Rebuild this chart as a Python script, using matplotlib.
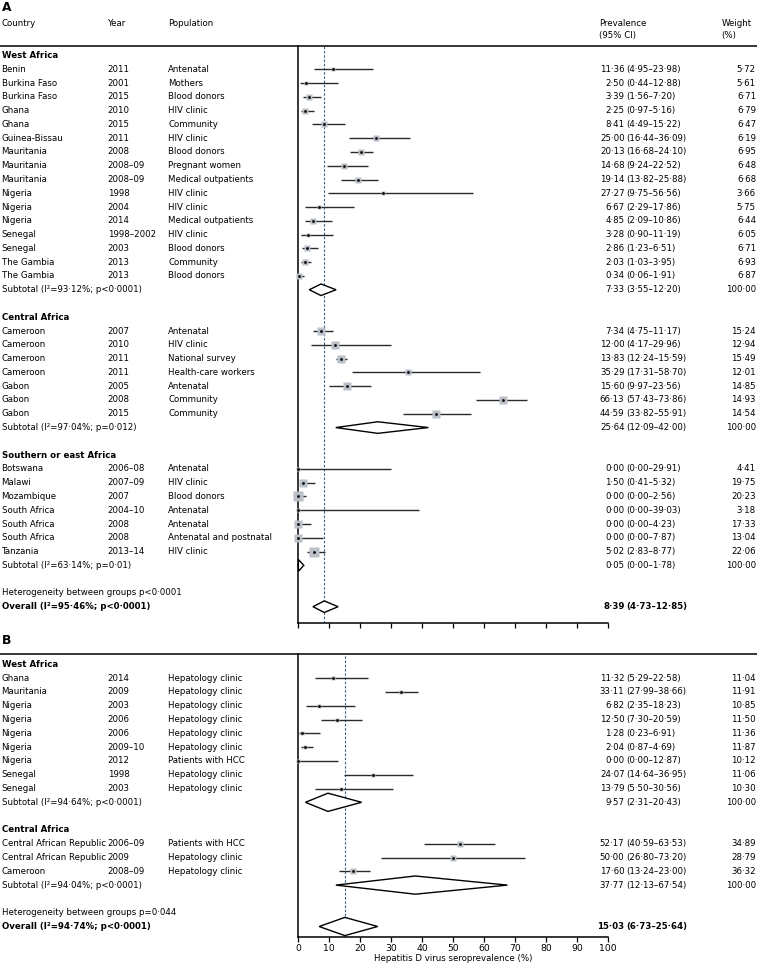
import matplotlib

matplotlib.use("Agg")
import matplotlib.pyplot as plt
from matplotlib.lines import Line2D
from matplotlib.transforms import blended_transform_factory

plt.rcParams["font.family"] = ["DejaVu Sans"]

# ----- panel A: HDV seroprevalence in general populations -----------------
A_GROUPS = ["West Africa", "Central Africa", "Southern or east Africa"]
A_GROUP_SIZES = [16, 7, 7]
A_COUNTRY = ["Benin", "Burkina Faso", "Burkina Faso", "Ghana", "Ghana", "Guinea-Bissau",
             "Mauritania", "Mauritania", "Mauritania", "Nigeria", "Nigeria", "Nigeria",
             "Senegal", "Senegal", "The Gambia", "The Gambia",
             "Cameroon", "Cameroon", "Cameroon", "Cameroon", "Gabon", "Gabon", "Gabon",
             "Botswana", "Malawi", "Mozambique", "South Africa", "South Africa",
             "South Africa", "Tanzania"]
A_YEAR = ["2011", "2001", "2015", "2010", "2015", "2011", "2008", "2008–09", "2008–09",
          "1998", "2004", "2014", "1998–2002", "2003", "2013", "2013",
          "2007", "2010", "2011", "2011", "2005", "2008", "2015",
          "2006–08", "2007–09", "2007", "2004–10", "2008", "2008", "2013–14"]
A_POP = ["Antenatal", "Mothers", "Blood donors", "HIV clinic", "Community", "HIV clinic",
         "Blood donors", "Pregnant women", "Medical outpatients", "HIV clinic", "HIV clinic",
         "Medical outpatients", "HIV clinic", "Blood donors", "Community", "Blood donors",
         "Antenatal", "HIV clinic", "National survey", "Health-care workers", "Antenatal",
         "Community", "Community",
         "Antenatal", "HIV clinic", "Blood donors", "Antenatal", "Antenatal",
         "Antenatal and postnatal", "HIV clinic"]
A_EST = [11.36, 2.50, 3.39, 2.25, 8.41, 25.00, 20.13, 14.68, 19.14, 27.27, 6.67, 4.85,
         3.28, 2.86, 2.03, 0.34,
         7.34, 12.00, 13.83, 35.29, 15.60, 66.13, 44.59,
         0.00, 1.50, 0.00, 0.00, 0.00, 0.00, 5.02]
A_LO = [4.95, 0.44, 1.56, 0.97, 4.49, 16.44, 16.68, 9.24, 13.82, 9.75, 2.29, 2.09,
        0.90, 1.23, 1.03, 0.06,
        4.75, 4.17, 12.24, 17.31, 9.97, 57.43, 33.82,
        0.00, 0.41, 0.00, 0.00, 0.00, 0.00, 2.83]
A_HI = [23.98, 12.88, 7.20, 5.16, 15.22, 36.09, 24.10, 22.52, 25.88, 56.56, 17.86, 10.86,
        11.19, 6.51, 3.95, 1.91,
        11.17, 29.96, 15.59, 58.70, 23.56, 73.86, 55.91,
        29.91, 5.32, 2.56, 39.03, 4.23, 7.87, 8.77]
A_WEIGHT = [5.72, 5.61, 6.71, 6.79, 6.47, 6.19, 6.95, 6.48, 6.68, 3.66, 5.75, 6.44,
            6.05, 6.71, 6.93, 6.87,
            15.24, 12.94, 15.49, 12.01, 14.85, 14.93, 14.54,
            4.41, 19.75, 20.23, 3.18, 17.33, 13.04, 22.06]
A_SUB_EST = [7.33, 25.64, 0.05]
A_SUB_LO = [3.55, 12.09, 0.00]
A_SUB_HI = [12.20, 42.00, 1.78]
A_SUB_I2 = [93.12, 97.04, 63.14]
A_SUB_P = ["p<0·0001", "p=0·012", "p=0·01"]
A_HET_P = "p<0·0001"
A_OVERALL = [8.39, 4.73, 12.85]
A_OVERALL_I2 = 95.46
A_OVERALL_P = "p<0·0001"

# ----- panel B: HDV seroprevalence in liver-disease populations -------------
B_GROUPS = ["West Africa", "Central Africa"]
B_GROUP_SIZES = [9, 3]
B_COUNTRY = ["Ghana", "Mauritania", "Nigeria", "Nigeria", "Nigeria", "Nigeria", "Nigeria",
             "Senegal", "Senegal",
             "Central African Republic", "Central African Republic", "Cameroon"]
B_YEAR = ["2014", "2009", "2003", "2006", "2006", "2009–10", "2012", "1998", "2003",
          "2006–09", "2009", "2008–09"]
B_POP = ["Hepatology clinic"] * 6 + ["Patients with HCC"] + ["Hepatology clinic"] * 2 + \
        ["Patients with HCC", "Hepatology clinic", "Hepatology clinic"]
B_EST = [11.32, 33.11, 6.82, 12.50, 1.28, 2.04, 0.00, 24.07, 13.79, 52.17, 50.00, 17.60]
B_LO = [5.29, 27.99, 2.35, 7.30, 0.23, 0.87, 0.00, 14.64, 5.50, 40.59, 26.80, 13.24]
B_HI = [22.58, 38.66, 18.23, 20.59, 6.91, 4.69, 12.87, 36.95, 30.56, 63.53, 73.20, 23.00]
B_WEIGHT = [11.04, 11.91, 10.85, 11.50, 11.36, 11.87, 10.12, 11.06, 10.30,
            34.89, 28.79, 36.32]
B_SUB_EST = [9.57, 37.77]
B_SUB_LO = [2.31, 12.13]
B_SUB_HI = [20.43, 67.54]
B_SUB_I2 = [94.64, 94.04]
B_SUB_P = ["p<0·0001", "p<0·0001"]
B_HET_P = "p=0·044"
B_OVERALL = [15.03, 6.73, 25.64]
B_OVERALL_I2 = 94.74
B_OVERALL_P = "p<0·0001"

# ----- layout (pixels of the 757x965 canvas) -------------------------------
W, H = 757, 965
FS = 6.25
X0_PX, X100_PX = 298.3, 608.0
COL_COUNTRY, COL_YEAR, COL_POP = 1.5, 107.7, 168.3
COL_EST, COL_CI, COL_WT = 624.5, 626.5, 756
BOX_COLOR = "#b9c0c8"
CI_COLOR = "#2a2a2a"
REF_COLOR = "#3a6282"


def num(v):
    return f"{v:.2f}".replace(".", "·")


def draw_panel(fig, top_px, bottom_px, row0_px, row_px, d, box_scale, dia_h, xlabels):
    ax = fig.add_axes([X0_PX / W, 1 - bottom_px / H, (X100_PX - X0_PX) / W,
                       (bottom_px - top_px) / H])
    ax.set_xlim(0, 100)
    ax.set_ylim((bottom_px - row0_px) / row_px, (top_px - row0_px) / row_px)
    tr = blended_transform_factory(fig.transFigure, ax.transData)

    def txt(xpx, r, s, **kw):
        ax.text(xpx / W, r, s, transform=tr, va="center", fontsize=FS, **kw)

    r, i = 0, 0
    for g, name in enumerate(d["groups"]):
        txt(COL_COUNTRY, r, name, fontweight="bold")
        r += 1
        for _ in range(d["sizes"][g]):
            txt(COL_COUNTRY, r, d["country"][i])
            txt(COL_YEAR, r, d["year"][i])
            txt(COL_POP, r, d["pop"][i])
            txt(COL_EST, r, num(d["est"][i]), ha="right")
            txt(COL_CI, r, f"({num(d['lo'][i])}–{num(d['hi'][i])})")
            txt(COL_WT, r, num(d["weight"][i]), ha="right")
            ax.hlines(r, d["lo"][i], d["hi"][i], color=CI_COLOR, lw=1.0, zorder=2)
            ax.plot(d["est"][i], r, "s", ms=box_scale * d["weight"][i] ** 0.5,
                    color=BOX_COLOR, mec="none", zorder=3, clip_on=False)
            ax.plot(d["est"][i], r, "o", ms=2.0, color="black", mec="none", zorder=4,
                    clip_on=False)
            r += 1; i += 1
        lo, est, hi = d["sub_lo"][g], d["sub_est"][g], d["sub_hi"][g]
        txt(COL_COUNTRY, r, f"Subtotal (I²={num(d['sub_i2'][g])}%; {d['sub_p'][g]})")
        txt(COL_EST, r, num(est), ha="right")
        txt(COL_CI, r, f"({num(lo)}–{num(hi)})")
        txt(COL_WT, r, num(100), ha="right")
        ax.fill([lo, est, hi, est], [r, r - dia_h, r, r + dia_h], fc="white", ec="black",
                lw=1.0, zorder=3, clip_on=False)
        r += 2

    txt(COL_COUNTRY, r, f"Heterogeneity between groups {d['het_p']}")
    r += 1
    est, lo, hi = d["overall"]
    txt(COL_COUNTRY, r, f"Overall (I²={num(d['overall_i2'])}%; {d['overall_p']})",
        fontweight="bold")
    txt(COL_EST, r, num(est), ha="right", fontweight="bold")
    txt(COL_CI, r, f"({num(lo)}–{num(hi)})", fontweight="bold")
    ax.fill([lo, est, hi, est], [r, r - dia_h, r, r + dia_h], fc="white", ec="black",
            lw=1.0, zorder=3, clip_on=False)
    ax.axvline(est, color=REF_COLOR, ls=(0, (2.2, 1.6)), lw=0.8, zorder=1)

    for side in ("top", "right"):
        ax.spines[side].set_visible(False)
    for side in ("left", "bottom"):
        ax.spines[side].set_linewidth(1.1)
    ax.patch.set_visible(False)
    ax.set_yticks([])
    ax.set_xticks(range(0, 101, 10))
    ax.tick_params(axis="x", direction="out", length=3.5, width=0.9, pad=1.5,
                   labelsize=FS + 0.4, labelbottom=xlabels)
    if xlabels:
        ax.set_xlabel("Hepatitis D virus seroprevalence (%)", fontsize=FS, labelpad=1)
    # full-width rule across the top of the panel
    fig.add_artist(Line2D([0, 1], [1 - top_px / H] * 2, transform=fig.transFigure,
                          color="black", lw=1.1))
    return ax


fig = plt.figure(figsize=(W / 100, H / 100), dpi=100)

A = dict(groups=A_GROUPS, sizes=A_GROUP_SIZES, country=A_COUNTRY, year=A_YEAR, pop=A_POP,
         est=A_EST, lo=A_LO, hi=A_HI, weight=A_WEIGHT, sub_est=A_SUB_EST, sub_lo=A_SUB_LO,
         sub_hi=A_SUB_HI, sub_i2=A_SUB_I2, sub_p=A_SUB_P, het_p=A_HET_P,
         overall=A_OVERALL, overall_i2=A_OVERALL_I2, overall_p=A_OVERALL_P)
B = dict(groups=B_GROUPS, sizes=B_GROUP_SIZES, country=B_COUNTRY, year=B_YEAR, pop=B_POP,
         est=B_EST, lo=B_LO, hi=B_HI, weight=B_WEIGHT, sub_est=B_SUB_EST, sub_lo=B_SUB_LO,
         sub_hi=B_SUB_HI, sub_i2=B_SUB_I2, sub_p=B_SUB_P, het_p=B_HET_P,
         overall=B_OVERALL, overall_i2=B_OVERALL_I2, overall_p=B_OVERALL_P)

draw_panel(fig, 46, 623, 55.5, 13.78, A, box_scale=1.45, dia_h=0.42, xlabels=False)
draw_panel(fig, 654.3, 936.7, 664.3, 13.8, B, box_scale=0.8, dia_h=0.66, xlabels=True)

# panel letters and column headers
fig.text(1.5 / W, 1 - 7.5 / H, "A", fontsize=FS + 2.6, fontweight="bold", va="center")
fig.text(1.5 / W, 1 - 640 / H, "B", fontsize=FS + 2.6, fontweight="bold", va="center")
for xpx, s in ((COL_COUNTRY, "Country"), (COL_YEAR, "Year"), (COL_POP, "Population"),
               (599.3, "Prevalence\n(95% CI)"), (721.7, "Weight\n(%)")):
    fig.text(xpx / W, 1 - 19.5 / H, s, fontsize=FS, va="top", linespacing=1.35)

fig.savefig("out.png", dpi=100)
